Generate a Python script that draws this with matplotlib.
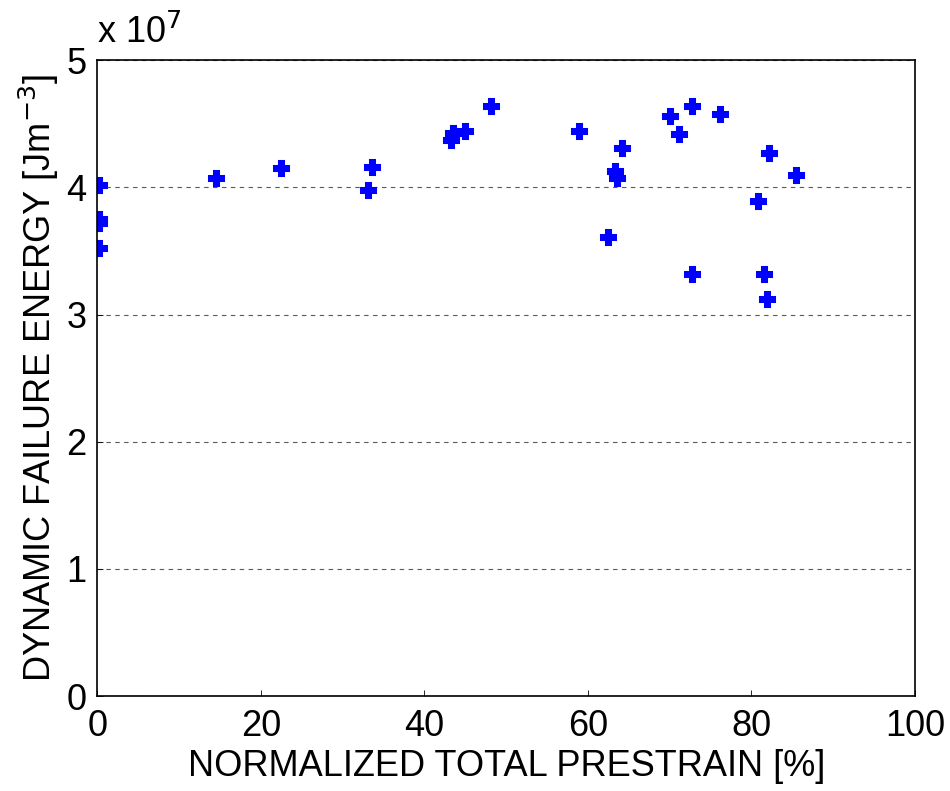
import matplotlib.pyplot as plt
from matplotlib.ticker import FuncFormatter

plt.rcParams['font.family'] = ['Liberation Sans', 'DejaVu Sans']

# prestrain [%] y energia de falla dinamica [J/m^3]
prestrain = [0.2, 0.2, 0.2, 0.2, 14.5, 22.4, 33.6, 33.1, 43.3, 43.5, 44.9, 48.1,
             58.9, 64.2, 63.3, 63.6, 62.4, 70.0, 72.7, 71.1, 76.2, 82.2, 85.5,
             80.8, 72.7, 81.5, 81.9]
energia = [4.02e7, 3.75e7, 3.72e7, 3.52e7, 4.07e7, 4.15e7, 4.16e7, 3.98e7, 4.37e7,
           4.43e7, 4.44e7, 4.64e7, 4.44e7, 4.31e7, 4.13e7, 4.07e7, 3.61e7, 4.56e7,
           4.64e7, 4.42e7, 4.58e7, 4.27e7, 4.10e7, 3.89e7, 3.32e7, 3.32e7, 3.12e7]

fig = plt.figure(figsize=(9.5, 7.91), dpi=100)
ax = fig.add_axes([0.1026, 0.12, 0.8605, 0.804])

ax.plot(prestrain, energia, 'P', color='blue', markersize=9.5,
        markeredgecolor='blue', markeredgewidth=2.2)

ax.set_xlim(0, 100)
ax.set_ylim(0, 5e7)
ax.set_xticks(range(0, 101, 20))
ax.set_yticks([i * 1e7 for i in range(6)])
ax.yaxis.set_major_formatter(FuncFormatter(lambda v, p: f"{v / 1e7:g}"))
ax.tick_params(direction='in', length=4, width=0.6, labelsize=26)
ax.tick_params(axis='x', pad=9)
ax.tick_params(axis='y', pad=8)
ax.yaxis.grid(True, linestyle=(0, (4, 4)), color='0.35', linewidth=0.8)
for s in ax.spines.values():
    s.set_linewidth(1.2)

ax.text(0.0, 1.015, r'x 10$^{7}$', transform=ax.transAxes, fontsize=26,
        ha='left', va='bottom')
ax.set_xlabel('NORMALIZED TOTAL PRESTRAIN [%]', fontsize=26, labelpad=4)
ax.set_ylabel(r'DYNAMIC FAILURE ENERGY [Jm$^{-3}$]', fontsize=26, labelpad=4)

fig.savefig('out.png', dpi=100)
